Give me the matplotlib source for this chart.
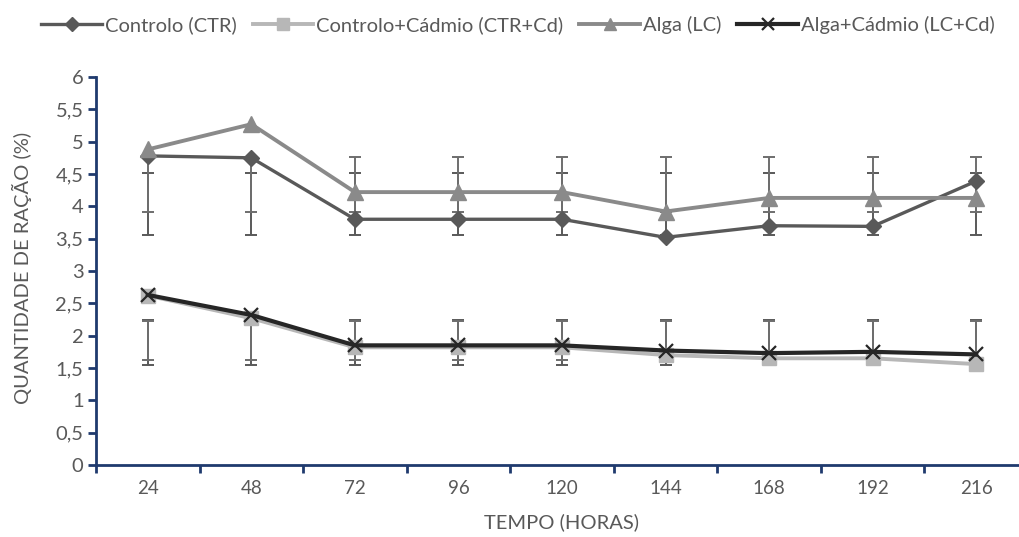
import numpy as np
import matplotlib
matplotlib.use("Agg")
import matplotlib.pyplot as plt

plt.rcParams['font.family'] = ['Lato', 'DejaVu Sans']

# data
horas = ["24", "48", "72", "96", "120", "144", "168", "192", "216"]
ctr = [4.78, 4.75, 3.80, 3.80, 3.80, 3.52, 3.70, 3.69, 4.39]
ctr_cd = [2.62, 2.27, 1.82, 1.82, 1.82, 1.70, 1.65, 1.65, 1.56]
lc = [4.88, 5.27, 4.22, 4.22, 4.22, 3.92, 4.13, 4.13, 4.13]
lc_cd = [2.63, 2.32, 1.85, 1.85, 1.85, 1.77, 1.73, 1.75, 1.71]

# error bar ranges (low, high), same at every time point
ctr_err = (3.55, 4.51)
lc_err = (3.91, 4.77)
ctr_cd_err = (1.55, 2.25)
lc_cd_err = (1.62, 2.23)

yticks = [0, 0.5, 1, 1.5, 2, 2.5, 3, 3.5, 4, 4.5, 5, 5.5, 6]
ytick_labels = ["0", "0,5", "1", "1,5", "2", "2,5", "3", "3,5", "4", "4,5", "5", "5,5", "6"]

axis_col = "#1f3a6e"
txt_col = "#595959"

fig = plt.figure(figsize=(10.19, 5.37), dpi=100)
ax = fig.add_axes([96/1019, 72/537, 932/1019, 388/537])

x = np.arange(len(horas))

# error bars
for rng, col in [(ctr_err, "#595959"), (lc_err, "#6e6e6e"),
                 (ctr_cd_err, "#595959"), (lc_cd_err, "#6e6e6e")]:
    mid = np.full(len(x), (rng[0] + rng[1]) / 2)
    err = (rng[1] - rng[0]) / 2
    ax.errorbar(x, mid, yerr=err, fmt='none', ecolor=col, elinewidth=1.4,
                capsize=4.5, capthick=1.4, zorder=2)

ax.plot(x, ctr, color="#595959", lw=2.4, marker='D', ms=8.5, label="Controlo (CTR)", zorder=3)
ax.plot(x, ctr_cd, color="#b7b7b7", lw=2.8, marker='s', ms=9.5, label="Controlo+Cádmio (CTR+Cd)", zorder=3)
ax.plot(x, lc, color="#8a8a8a", lw=2.8, marker='^', ms=11, label="Alga (LC)", zorder=3)
ax.plot(x, lc_cd, color="#262626", lw=3.0, marker='x', ms=10, mew=1.6, label="Alga+Cádmio (LC+Cd)", zorder=4)

ax.set_xlim(-0.5, len(horas) - 0.5)
ax.set_ylim(0, 6)
ax.set_xticks(x)
ax.set_xticklabels(horas)
ax.set_xticks(np.arange(len(horas) + 1) - 0.5, minor=True)
ax.tick_params(axis='x', which='major', length=0, pad=11, labelsize=13.5, labelcolor=txt_col)
ax.tick_params(axis='x', which='minor', length=6, width=2, color=axis_col, direction='out')
ax.set_yticks(yticks)
ax.set_yticklabels(ytick_labels)
ax.tick_params(axis='y', length=6, width=2, color=axis_col, labelsize=14.5, labelcolor=txt_col, pad=3)

for s in ['top', 'right']:
    ax.spines[s].set_visible(False)
for s in ['left', 'bottom']:
    ax.spines[s].set_color(axis_col)
    ax.spines[s].set_linewidth(2)

fig.text(22/1019, 1 - 268/537, "QUANTIDADE DE RAÇÃO (%)", rotation=90, ha='center', va='center',
         fontsize=14.5, color=txt_col)
fig.text(561/1019, 1 - 522/537, "TEMPO (HORAS)", ha='center', va='center',
         fontsize=14.5, color=txt_col)

fig.legend(loc='center', bbox_to_anchor=(518/1019, 1 - 25/537), ncol=4, frameon=False,
           fontsize=14.5, labelcolor=txt_col, handlelength=3.0, handletextpad=0.15,
           columnspacing=0.8, markerscale=0.85)

fig.savefig("out.png", dpi=100)
